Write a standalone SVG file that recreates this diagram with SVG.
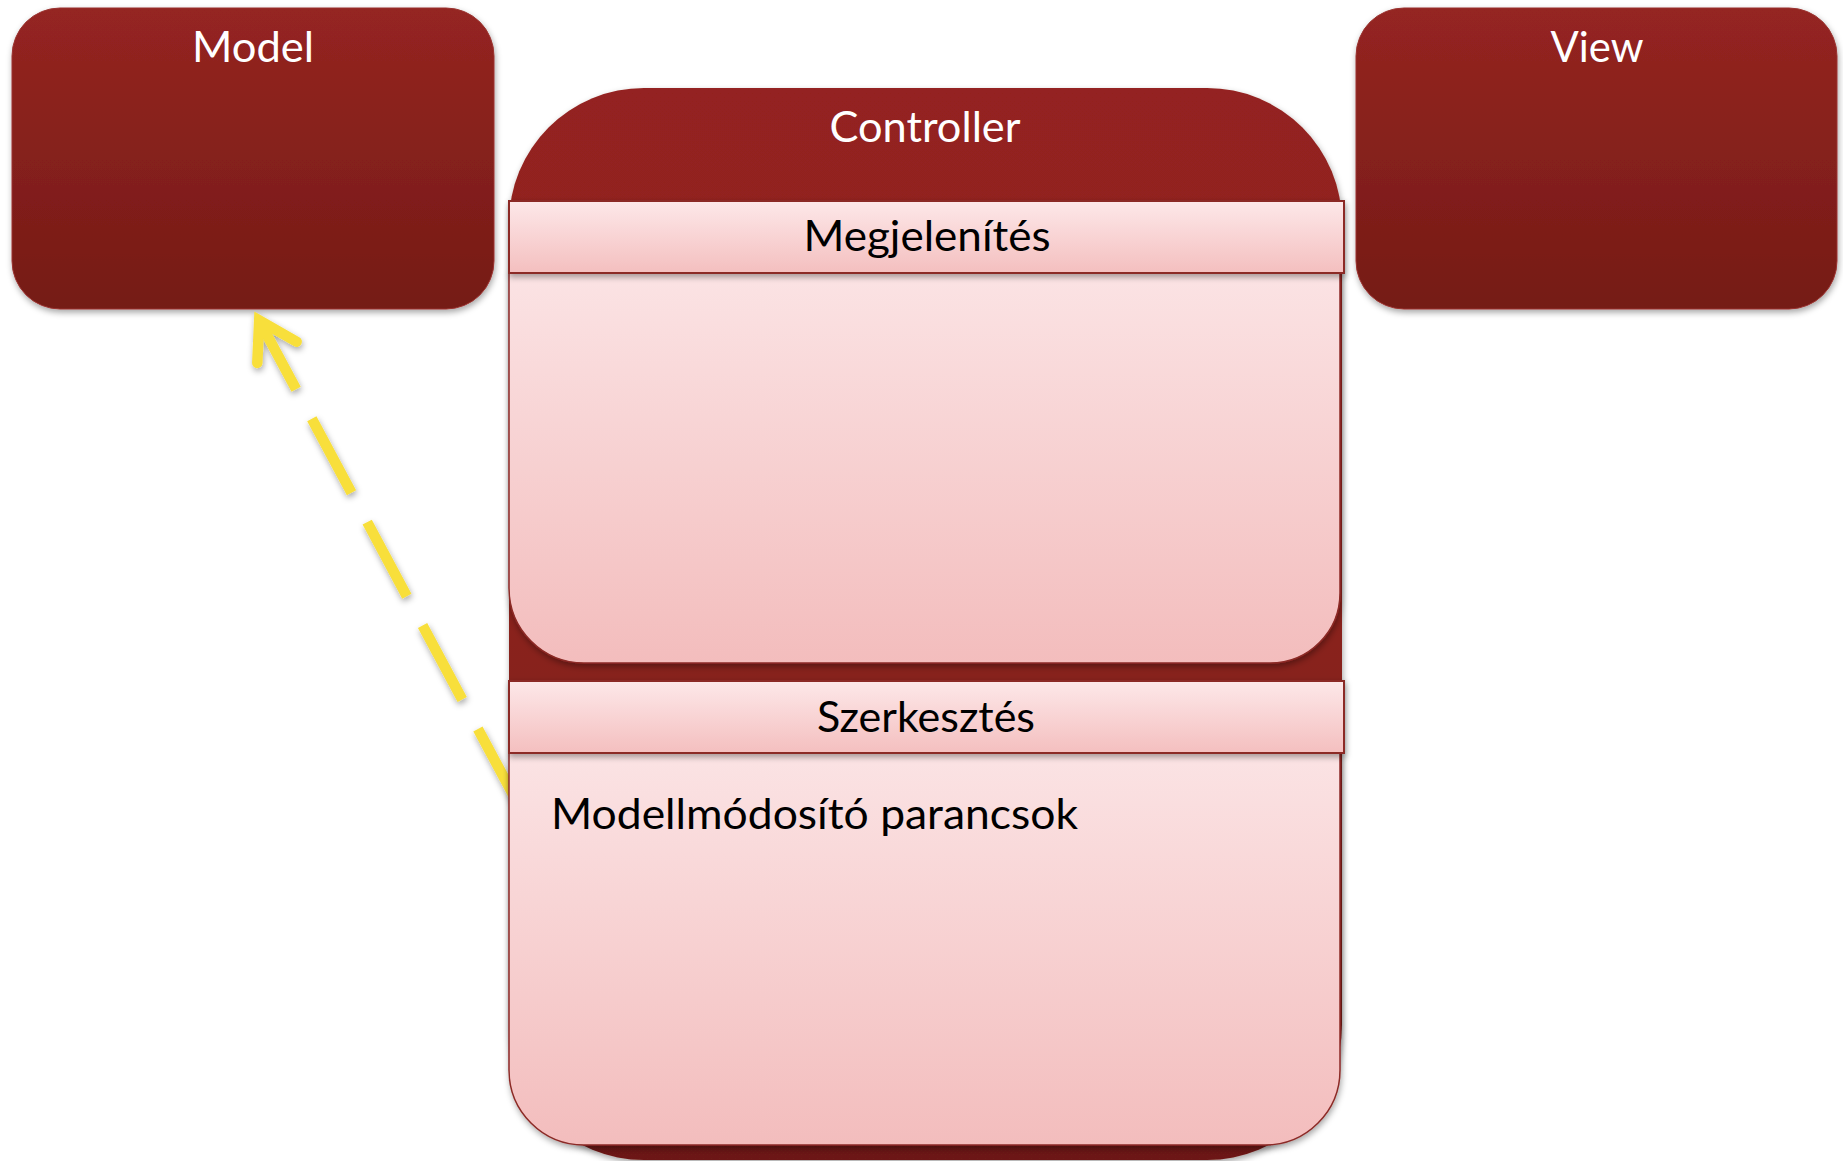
<svg xmlns="http://www.w3.org/2000/svg" width="1843" height="1161" viewBox="0 0 1843 1161">
  <defs>
    <linearGradient id="gDark" x1="0" y1="0" x2="0" y2="1">
      <stop offset="0" stop-color="#952521"/>
      <stop offset="1" stop-color="#751b16"/>
    </linearGradient>
    <linearGradient id="gCtrl" x1="0" y1="0" x2="0" y2="1">
      <stop offset="0" stop-color="#942420"/>
      <stop offset="0.5" stop-color="#8a221d"/>
      <stop offset="1" stop-color="#6c1914"/>
    </linearGradient>
    <linearGradient id="gHead" x1="0" y1="0" x2="0" y2="1">
      <stop offset="0" stop-color="#fde8e9"/>
      <stop offset="1" stop-color="#f4bfbf"/>
    </linearGradient>
    <linearGradient id="gBody" x1="0" y1="0" x2="0" y2="1">
      <stop offset="0" stop-color="#fbe3e4"/>
      <stop offset="1" stop-color="#f3bdbd"/>
    </linearGradient>
    <filter id="shadow" x="-10%" y="-10%" width="120%" height="125%">
      <feDropShadow dx="1" dy="3" stdDeviation="3" flood-color="#000" flood-opacity="0.35"/>
    </filter>
  </defs>
  <style>
    .dark { fill: url(#gDark); stroke: #9a3330; stroke-width: 1; filter: url(#shadow); }
    .ctrl { fill: url(#gCtrl); filter: url(#shadow); }
    .head { fill: url(#gHead); stroke: #8c2a26; stroke-width: 2; filter: url(#shadow); }
    .body { fill: url(#gBody); stroke: #8c2a26; stroke-width: 1.5; filter: url(#shadow); }
    .title { font-family: Lato, "Open Sans", "Liberation Sans", sans-serif; font-size: 42px; fill: #ffffff; text-anchor: middle; }
    .label { font-family: Lato, "Open Sans", "Liberation Sans", sans-serif; font-size: 43px; fill: #000000; }
    .mid { text-anchor: middle; }
    .flow { fill: none; stroke: #f8df3b; stroke-width: 10.5; }
  </style>

  <rect width="1843" height="1161" fill="#ffffff"/>

  <g id="model">
    <rect class="dark" x="12" y="8" width="482" height="301" rx="48"/>
    <text class="title" x="253" y="62" textLength="122" lengthAdjust="spacingAndGlyphs">Model</text>
  </g>

  <g id="view">
    <rect class="dark" x="1356" y="8" width="481" height="301" rx="48"/>
    <text class="title" x="1597" y="62" textLength="93" lengthAdjust="spacingAndGlyphs">View</text>
  </g>

  <!-- command flow from the editing section up to the model -->
  <g id="connectors" filter="url(#shadow)">
    <path class="flow" d="M259.2,320.4 L525.9,818.5" stroke-dasharray="84 33.3" stroke-dashoffset="5.8"/>
    <path class="flow" d="M257.3,363 L259.2,320.4 L296.7,341.7" stroke-linecap="round" stroke-linejoin="miter" stroke-miterlimit="10"/>
  </g>

  <g id="controller">
    <rect class="ctrl" x="509" y="88" width="833" height="1072" rx="135"/>
    <text class="title" x="925" y="142" textLength="191" lengthAdjust="spacingAndGlyphs">Controller</text>

    <g id="megjelenites">
      <path class="body" d="M509,272 H1340 V593 A70,70 0 0 1 1270,663 H584 A75,75 0 0 1 509,588 Z"/>
      <rect class="head" x="509" y="201" width="835" height="72"/>
      <text class="label mid" x="927" y="251" textLength="247" lengthAdjust="spacingAndGlyphs">Megjelenítés</text>
    </g>

    <g id="szerkesztes">
      <path class="body" d="M509,753 H1340 V1070 A75,75 0 0 1 1265,1145 H584 A75,75 0 0 1 509,1070 Z"/>
      <rect class="head" x="509" y="681" width="835" height="72"/>
      <text class="label mid" x="926" y="732" textLength="218" lengthAdjust="spacingAndGlyphs">Szerkesztés</text>
      <text class="label" x="551" y="829" textLength="527" lengthAdjust="spacingAndGlyphs">Modellmódosító parancsok</text>
    </g>
  </g>
</svg>
